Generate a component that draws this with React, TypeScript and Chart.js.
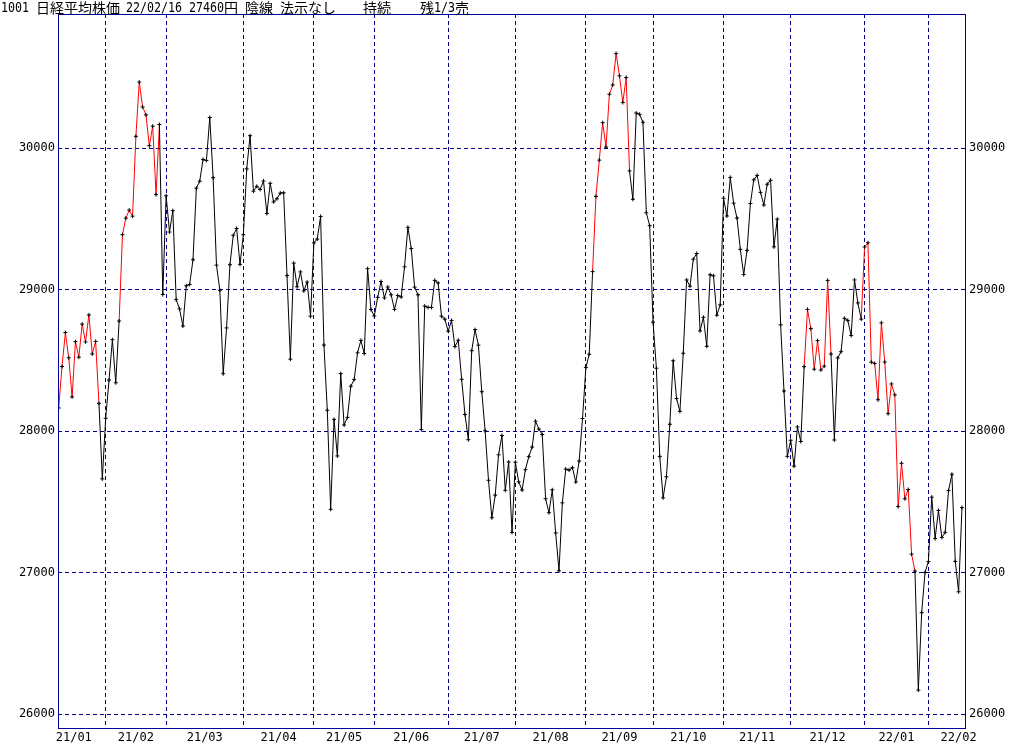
import React, { useEffect, useRef } from "react";
import { Chart, registerables } from "chart.js";

Chart.register(...registerables);

// ---- data: Nikkei 225 daily closes (21/01/12 .. 22/02/16) ----
const monthLabels = ["21/01", "21/02", "21/03", "21/04", "21/05", "21/06", "21/07", "21/08", "21/09", "21/10", "21/11", "21/12", "22/01", "22/02"];
// trading days in each full calendar month (used to centre the month label)
const monthTradingDays = [19, 18, 23, 21, 18, 22, 20, 21, 20, 21, 20, 22, 19, 18];

const jan21 = [28164, 28457, 28698, 28519, 28242, 28633, 28523, 28757, 28631, 28822, 28546, 28635, 28197, 27663];
const feb21 = [28091, 28362, 28647, 28342, 28779, 29389, 29506, 29563, 29520, 30084, 30468, 30292, 30236, 30018, 30156, 29672, 30168, 28966];
const mar21 = [29664, 29408, 29559, 28930, 28864, 28743, 29028, 29037, 29212, 29718, 29767, 29921, 29914, 30217, 29792, 29174, 28996, 28406, 28730, 29177, 29385, 29433, 29179];
const apr21 = [29389, 29854, 30089, 29697, 29731, 29709, 29768, 29539, 29752, 29621, 29643, 29683, 29685, 29100, 28509, 29188, 29021, 29126, 28992, 29054, 28813];
const may21 = [29331, 29358, 29518, 28609, 28148, 27448, 28084, 27825, 28407, 28044, 28098, 28318, 28365, 28554, 28642, 28549, 29149, 28860];
const jun21 = [28814, 28946, 29058, 28942, 29019, 28964, 28861, 28959, 28949, 29162, 29441, 29291, 29018, 28964, 28011, 28884, 28875, 28875, 29066, 29048, 28813, 28792];
const jul21 = [28707, 28783, 28598, 28643, 28367, 28118, 27940, 28569, 28718, 28608, 28279, 28003, 27653, 27388, 27548, 27833, 27970, 27582, 27782, 27284];
const aug21 = [27781, 27642, 27584, 27728, 27820, 27888, 28071, 28015, 27977, 27523, 27424, 27586, 27281, 27013, 27494, 27732, 27725, 27742, 27641, 27789, 28090];
const sep21 = [28451, 28544, 29128, 29660, 29916, 30181, 30008, 30382, 30447, 30670, 30512, 30323, 30500, 29840, 29639, 30249, 30240, 30184, 29544, 29453];
const oct21 = [28771, 28445, 27822, 27529, 27678, 28049, 28498, 28231, 28140, 28551, 29069, 29025, 29216, 29256, 28709, 28805, 28600, 29106, 29098, 28820, 28893];
const nov21 = [29647, 29521, 29794, 29612, 29507, 29285, 29107, 29278, 29610, 29777, 29808, 29688, 29599, 29746, 29774, 29303, 29499, 28752, 28284, 27822];
const dec21 = [27936, 27753, 28030, 27927, 28456, 28861, 28725, 28438, 28640, 28433, 28460, 29066, 28546, 27938, 28518, 28562, 28798, 28783, 28676, 29069, 28907, 28792];
const jan22 = [29302, 29332, 28488, 28479, 28222, 28766, 28489, 28124, 28334, 28257, 27467, 27773, 27522, 27588, 27131, 27011, 26170, 26717, 27002];
const feb22 = [27078, 27534, 27241, 27440, 27249, 27285, 27580, 27696, 27080, 26865, 27460];

const monthCloses = [jan21, feb21, mar21, apr21, may21, jun21, jul21, aug21, sep21, oct21, nov21, dec21, jan22, feb22];

// holding-signal spans (trading-day index ranges, inclusive) drawn in red
const holdSpans = [[0, 12], [19, 30], [160, 170], [223, 230], [240, 255]];

const yTicks = [26000, 27000, 28000, 29000, 30000];
const Y_MIN = 25895;
const Y_MAX = 30949;

const headerTexts = ["1001", "日経平均株価", "22/02/16", "27460", "円", "陰線", "法示なし", "持続", "残", "1/3", "売"];

// ---- derived ----
const closes = monthCloses.flat();
const isRed = closes.map((_, i) => holdSpans.some(([a, b]) => i >= a && i <= b));

const boundaries: number[] = [];
const labelAt = new Map<number, string>();
{
  let acc = 0;
  monthCloses.forEach((m, k) => {
    const fullStart = k === 0 ? acc - (monthTradingDays[0] - m.length) : acc;
    if (k > 0) boundaries.push(acc);
    labelAt.set(fullStart + monthTradingDays[k] / 2, monthLabels[k]);
    acc += m.length;
  });
}
const boundarySet = new Set(boundaries);
const xTickValues = [...boundaries, ...labelAt.keys()].sort((a, b) => a - b);

const GRID = "#000088";
const FRAME = "#0000A0";
const MONO = "DejaVu Sans Mono";
const CJK = "Noto Sans CJK JP";

const framePlugin = {
  id: "frameAndHeader",
  afterDraw(chart: any) {
    const { ctx, chartArea } = chart;
    const { left, top, right, bottom } = chartArea;
    ctx.save();
    ctx.strokeStyle = FRAME;
    ctx.lineWidth = 1;
    ctx.setLineDash([]);
    ctx.strokeRect(left + 0.5, top + 0.5, right - left - 1, bottom - top - 1);

    // header line
    const layoutX = [1, 36, 126, 189, 224, 245, 280, 363, 420, 434, 455];
    ctx.fillStyle = "#000";
    ctx.textBaseline = "alphabetic";
    ctx.textAlign = "left";
    headerTexts.forEach((t, i) => {
      const ascii = /^[\x20-\x7e]+$/.test(t);
      if (ascii) {
        ctx.font = `14px "${MONO}"`;
        ctx.fillText(t, layoutX[i], 12, t.length * 7);
      } else {
        ctx.font = `14px "${CJK}"`;
        ctx.fillText(t, layoutX[i], 12.5, t.length * 14.3);
      }
    });
    ctx.restore();
  },
};

export default function App() {
  const ref = useRef<HTMLCanvasElement | null>(null);

  useEffect(() => {
    document.body.style.margin = "0";
    const canvas = ref.current;
    if (!canvas) return;
    const tickFont = { family: MONO, size: 12 };
    const chart = new Chart(canvas, {
      type: "line",
      data: {
        datasets: [
          {
            data: closes.map((y, i) => ({ x: i, y })),
            borderColor: "#000000",
            borderWidth: 1,
            tension: 0,
            fill: false,
            pointStyle: "cross",
            pointRadius: 2,
            pointHoverRadius: 2,
            pointBorderColor: "#000000",
            pointBackgroundColor: "#000000",
            pointBorderWidth: 1,
            segment: {
              borderColor: (c: any) => (isRed[c.p1DataIndex] ? "#FF0000" : "#000000"),
            },
            xAxisID: "x",
            yAxisID: "y",
          },
        ],
      },
      options: {
        responsive: false,
        animation: false,
        devicePixelRatio: 1,
        events: [],
        layout: { padding: { top: 14, left: 0, right: 0, bottom: 0 } },
        plugins: { legend: { display: false }, tooltip: { enabled: false } },
        scales: {
          x: {
            type: "linear",
            position: "bottom",
            min: -0.2,
            max: 270.2,
            afterBuildTicks: (s: any) => {
              s.ticks = xTickValues.map((v) => ({ value: v }));
            },
            afterFit: (s: any) => {
              s.height = 16;
            },
            ticks: {
              autoSkip: false,
              maxRotation: 0,
              minRotation: 0,
              padding: 2,
              color: "#000",
              font: tickFont,
              callback: (v: any) => labelAt.get(Number(v)) ?? "",
            },
            grid: {
              drawTicks: false,
              lineWidth: 1,
              color: (c: any) => (c.tick && boundarySet.has(c.tick.value) ? GRID : "rgba(0,0,0,0)"),
            },
            border: { display: false, dash: [4, 3] },
          },
          y: {
            type: "linear",
            position: "left",
            min: Y_MIN,
            max: Y_MAX,
            afterBuildTicks: (s: any) => {
              s.ticks = yTicks.map((v) => ({ value: v }));
            },
            afterFit: (s: any) => {
              s.width = 58;
            },
            ticks: { padding: 3, color: "#000", font: tickFont, callback: (v: any) => String(v) },
            grid: { drawTicks: false, lineWidth: 1, color: GRID },
            border: { display: false, dash: [4, 3] },
          },
          y2: {
            type: "linear",
            position: "right",
            min: Y_MIN,
            max: Y_MAX,
            afterBuildTicks: (s: any) => {
              s.ticks = yTicks.map((v) => ({ value: v }));
            },
            afterFit: (s: any) => {
              s.width = 58;
            },
            ticks: { padding: 3, color: "#000", font: tickFont, callback: (v: any) => String(v) },
            grid: { display: false, drawTicks: false },
            border: { display: false },
          },
        },
      } as any,
      plugins: [framePlugin],
    });
    return () => chart.destroy();
  }, []);

  return (
    <div style={{ width: 1024, height: 745, background: "#fff" }}>
      <canvas ref={ref} width={1024} height={745} style={{ display: "block", width: 1024, height: 745 }} />
    </div>
  );
}
